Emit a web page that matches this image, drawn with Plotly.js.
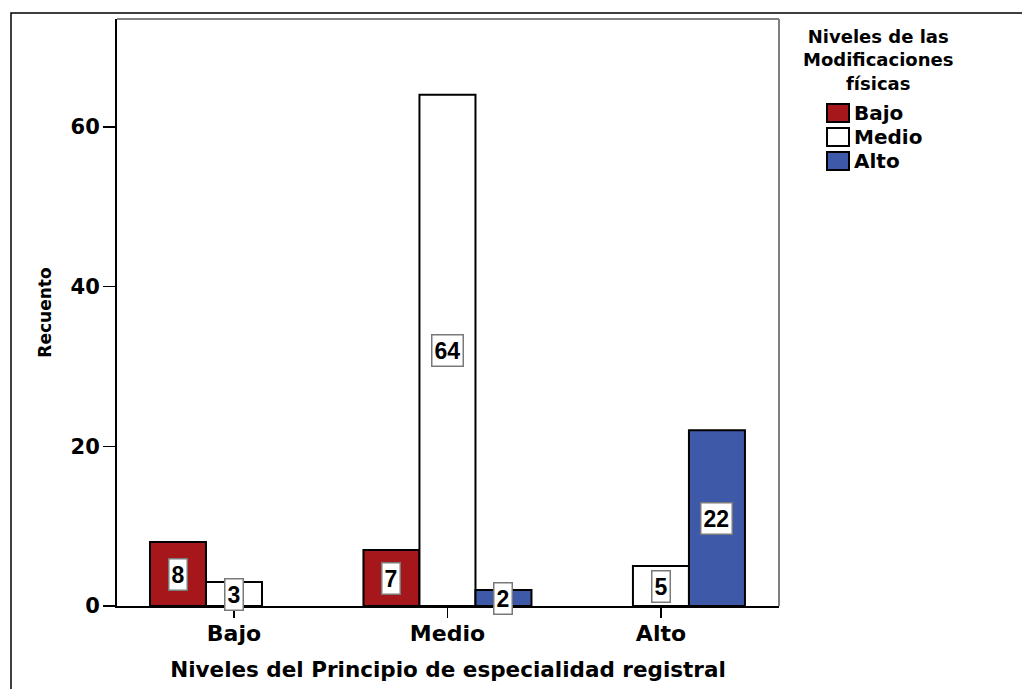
<!DOCTYPE html>
<html>
<head>
<meta charset="utf-8">
<script src="https://cdn.plot.ly/plotly-3.0.1.min.js"></script>
<style>
  html, body { margin: 0; padding: 0; background: #ffffff; }
  #chart { width: 1022px; height: 689px; }
</style>
</head>
<body>
<div id="chart"></div>
<script>
// ---- data ----
const categories = ["Bajo", "Medio", "Alto"];
const seriesNames = ["Bajo", "Medio", "Alto"];
const valuesBajo  = [8, 7, null];
const valuesMedio = [3, 64, 5];
const valuesAlto  = [null, 2, 22];
const seriesColors = ["#A5171B", "#FFFFFF", "#3F59A9"];
const yTicks = [0, 20, 40, 60];
const legendTitleLines = ["Niveles de las", "Modificaciones", "físicas"];
const xTitle = "Niveles del Principio de especialidad registral";
const yTitle = "Recuento";

const seriesValues = [valuesBajo, valuesMedio, valuesAlto];
const FONT = "DejaVu Sans, Verdana, sans-serif";
const LABELFONT = "Liberation Sans, Arial, Helvetica, sans-serif";
const bargap = 0.213;
const nSeries = seriesValues.length;
const barW = (1 - bargap) / nSeries;

// plot area in px
const W = 1022, H = 689;
const mL = 117, mR = 243, mT = 19, mB = 83;
const pw = W - mL - mR, ph = H - mT - mB;
const px = x => (x - mL) / pw;
const py = y => (H - mB - y) / ph;

const traces = seriesValues.map((vals, k) => ({
  type: "bar",
  name: seriesNames[k],
  x: categories,
  y: vals,
  marker: { color: seriesColors[k], line: { color: "#000000", width: 2 } },
  hoverinfo: "x+y+name",
  showlegend: false
}));

const annotations = [];
// value labels
seriesValues.forEach((vals, k) => {
  vals.forEach((v, i) => {
    if (v === null || v === undefined || v === 0) return;
    annotations.push({
      x: i + (k - (nSeries - 1) / 2) * barW,
      y: v / 2,
      xref: "x", yref: "y",
      text: String(v),
      showarrow: false,
      font: { family: LABELFONT, size: 23, color: "#000", weight: "bold" },
      bgcolor: "#ffffff",
      bordercolor: "#7a7a7a",
      borderwidth: 1.5,
      borderpad: 2,
      xanchor: "center", yanchor: "middle"
    });
  });
});

// legend title
annotations.push({
  x: px(878), y: py(60), xref: "paper", yref: "paper",
  text: legendTitleLines.join("<br>"), showarrow: false, align: "center",
  xanchor: "center", yanchor: "middle",
  font: { family: FONT, size: 18, color: "#000", weight: "bold" }
});

const shapes = [];
// outer frame
shapes.push({ type: "rect", xref: "paper", yref: "paper",
  x0: px(11), x1: px(1100), y0: py(760), y1: py(13),
  line: { color: "#000", width: 1.5 }, fillcolor: "rgba(0,0,0,0)", layer: "below" });
// plot area top/right gray frame
shapes.push({ type: "line", xref: "paper", yref: "paper", x0: 0, x1: 1, y0: 1, y1: 1,
  line: { color: "#808080", width: 2 }, layer: "below" });
shapes.push({ type: "line", xref: "paper", yref: "paper", x0: 1, x1: 1, y0: 0, y1: 1,
  line: { color: "#808080", width: 2 }, layer: "below" });

// custom legend items
seriesNames.forEach((name, k) => {
  const top = 104 + 24 * k;
  shapes.push({ type: "rect", xref: "paper", yref: "paper",
    x0: px(827), x1: px(849), y0: py(top + 18), y1: py(top),
    fillcolor: seriesColors[k], line: { color: "#000", width: 2 } });
  annotations.push({
    x: px(852), y: py(top + 9), xref: "paper", yref: "paper",
    text: name, showarrow: false, xanchor: "left", yanchor: "middle",
    font: { family: FONT, size: 20, color: "#000", weight: "bold" }
  });
});

const layout = {
  width: W, height: H,
  margin: { l: mL, r: mR, t: mT, b: mB, pad: 0 },
  paper_bgcolor: "#ffffff", plot_bgcolor: "#ffffff",
  barmode: "group", bargap: bargap, bargroupgap: 0,
  showlegend: false,
  font: { family: FONT, color: "#000" },
  xaxis: {
    type: "category",
    range: [-0.548, 2.553],
    showline: true, linecolor: "#000", linewidth: 2,
    ticks: "outside", ticklen: 10, tickcolor: "#000", tickwidth: 1.5,
    ticklabelstandoff: -3,
    tickfont: { family: FONT, size: 22, color: "#000", weight: "bold" },
    showgrid: false, zeroline: false,
    title: { text: xTitle, standoff: 17,
      font: { family: FONT, size: 21.5, color: "#000", weight: "bold" } }
  },
  yaxis: {
    range: [0, 73.5],
    tickvals: yTicks,
    showline: true, linecolor: "#000", linewidth: 2,
    ticks: "outside", ticklen: 12, tickcolor: "#000", tickwidth: 1.5,
    ticklabelstandoff: -1,
    tickfont: { family: FONT, size: 21, color: "#000", weight: "bold" },
    showgrid: false, zeroline: false,
    title: { text: yTitle, standoff: 15,
      font: { family: FONT, size: 17, color: "#000", weight: "bold" } }
  },
  shapes: shapes,
  annotations: annotations
};

Plotly.newPlot("chart", traces, layout, { displayModeBar: false, staticPlot: true });
</script>
</body>
</html>
